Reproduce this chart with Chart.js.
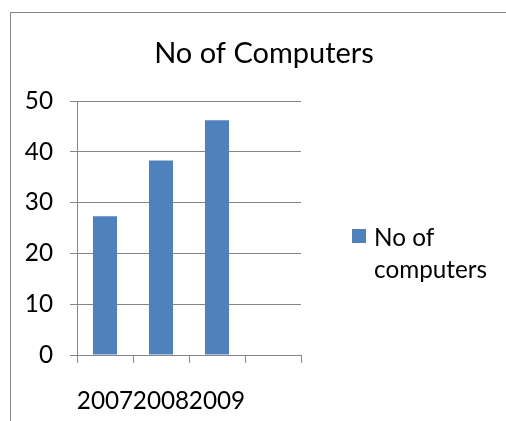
<!DOCTYPE html>
<html>
<head>
<meta charset="utf-8">
<script src="https://cdn.jsdelivr.net/npm/chart.js@4/dist/chart.umd.min.js"></script>
<style>
  html, body { margin: 0; padding: 0; background: #fff; overflow: hidden; width: 506px; height: 421px; position: relative; }
  #frame { position: absolute; left: 10px; top: 12px; width: 700px; height: 700px; border-left: 1px solid #868686; border-top: 1px solid #868686; box-sizing: border-box; }
  #wrap { position: absolute; left: 0; top: 0; width: 506px; height: 409px; }
</style>
</head>
<body>
<div id="frame"><div id="wrap"><canvas id="c"></canvas></div></div>
<script>
const categories = ['2007', '2008', '2009', ''];
const computers = [27.3, 38.3, 46.2, null];
const seriesName = 'No of computers';
const legendLines = ['No of', 'computers'];
const titleText = 'No of Computers';
const yTicks = { min: 0, max: 50, step: 10 };

const FONT = 'Lato, "Open Sans", sans-serif';
const GRID = '#868686';
const BAR = '#4F81BD';
const TEXT_SIZE = 24.3;

const sidePlugin = {
  id: 'sideLegendTitle',
  afterDraw(chart) {
    const ctx = chart.ctx;
    const ds = chart.data.datasets[0];
    ctx.save();
    // title
    ctx.fillStyle = '#000';
    ctx.font = '29px ' + FONT;
    ctx.textAlign = 'center';
    ctx.textBaseline = 'middle';
    ctx.fillText(titleText, 253, 41);
    // legend
    ctx.fillStyle = ds.backgroundColor;
    ctx.fillRect(341, 216, 14, 14);
    ctx.fillStyle = '#000';
    ctx.font = TEXT_SIZE + 'px ' + FONT;
    ctx.textBaseline = 'alphabetic';
    ctx.textAlign = 'left';
    legendLines.forEach((t, i) => ctx.fillText(t, 363, 233 + i * 32));
    ctx.restore();
  }
};

new Chart(document.getElementById('c'), {
  type: 'bar',
  data: {
    labels: categories,
    datasets: [{
      label: seriesName,
      data: computers,
      backgroundColor: BAR,
      borderWidth: 0,
      barPercentage: 0.43,
      categoryPercentage: 1.0
    }]
  },
  options: {
    responsive: true,
    maintainAspectRatio: false,
    animation: false,
    devicePixelRatio: 1,
    layout: { padding: { left: 0, right: 216, top: 88, bottom: 0 } },
    plugins: {
      legend: { display: false },
      tooltip: { enabled: false },
      title: { display: false }
    },
    scales: {
      x: {
        offset: true,
        grid: { display: true, drawOnChartArea: false, drawTicks: true, tickLength: 8, color: GRID, offset: true },
        border: { display: true, color: GRID, width: 1 },
        ticks: { color: '#000', font: { family: FONT, size: TEXT_SIZE }, maxRotation: 0, minRotation: 0, autoSkip: false, padding: 24 },
        afterFit(scale) { scale.height = 67; }
      },
      y: {
        min: yTicks.min,
        max: yTicks.max,
        ticks: { stepSize: yTicks.step, color: '#000', font: { family: FONT, size: TEXT_SIZE }, padding: 17 },
        grid: { color: GRID, tickLength: 7, drawTicks: true },
        border: { display: true, color: GRID, width: 1 },
        afterFit(scale) { scale.width = 66; }
      }
    }
  },
  plugins: [sidePlugin]
});
</script>
</body>
</html>
